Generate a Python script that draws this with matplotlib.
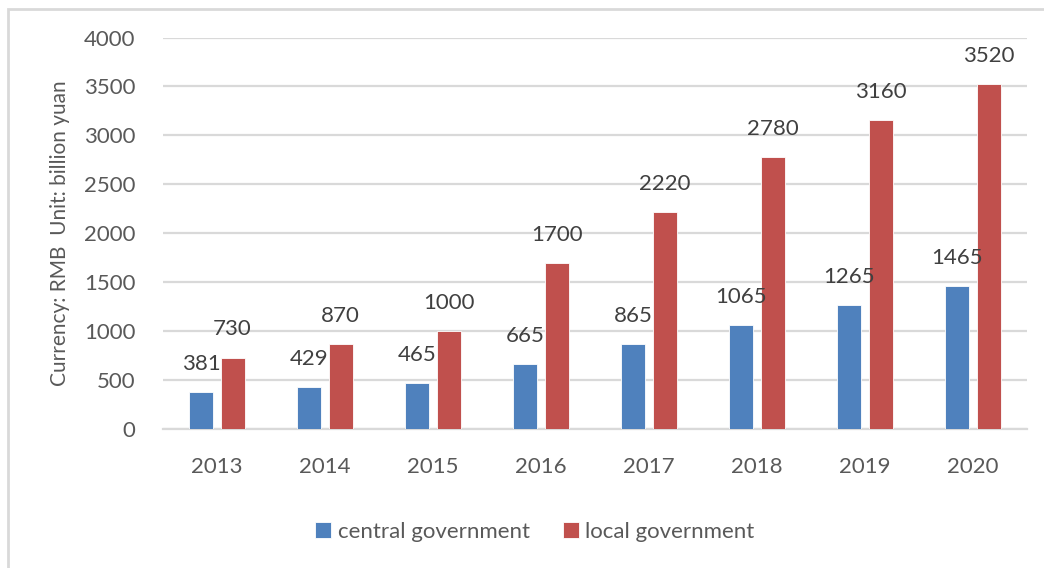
import numpy as np
import matplotlib
matplotlib.use("Agg")
import matplotlib.pyplot as plt
from matplotlib.patches import Rectangle

years = ["2013", "2014", "2015", "2016", "2017", "2018", "2019", "2020"]
central = [381, 429, 465, 665, 865, 1065, 1265, 1465]
local = [730, 870, 1000, 1700, 2220, 2780, 3160, 3520]

blue = "#4F81BD"
red = "#C0504D"
txt = "#595959"
grid = "#D9D9D9"

plt.rcParams['font.family'] = ['Lato', 'DejaVu Sans']
fs = 16

W, H = 1044, 568
fig = plt.figure(figsize=(W / 100, H / 100), dpi=100)

# chart frame
fig.patches.append(Rectangle((8 / W, -0.1), 1.2, 1 - 9 / H + 0.1, transform=fig.transFigure,
                             fill=False, edgecolor="#D9D9D9", linewidth=2.0))

ax = fig.add_axes([163 / W, 1 - 429 / H, (1027 - 163) / W, (429 - 37.5) / H])

x = np.arange(len(years))
w = 0.222
off = 0.144
b1 = ax.bar(x - off, central, w, color=blue, edgecolor="white", linewidth=0.6, label="central government", zorder=3)
b2 = ax.bar(x + off, local, w, color=red, edgecolor="white", linewidth=0.6, label="local government", zorder=3)

for bars, vals in ((b1, central), (b2, local)):
    for r, v in zip(bars, vals):
        ax.annotate(str(v), (r.get_x() + r.get_width() / 2, v), xytext=(0, 13), textcoords="offset points",
                    ha="center", va="bottom", fontsize=fs, color="#404040", zorder=4)

ax.set_xlim(-0.5, len(years) - 0.5)
ax.set_ylim(0, 4000)
ax.set_yticks(np.arange(0, 4001, 500))
ax.set_xticks(x)
ax.set_xticklabels(years)
ax.yaxis.grid(True, color=grid, linewidth=1.6, zorder=0)
ax.set_axisbelow(True)
for s in ["top", "right", "left"]:
    ax.spines[s].set_visible(False)
ax.spines["bottom"].set_color(grid)
ax.spines["bottom"].set_linewidth(1.6)
ax.tick_params(axis="both", length=0, labelsize=fs, colors=txt)
ax.tick_params(axis="y", pad=20)
ax.tick_params(axis="x", pad=20)

fig.text(60 / W, 1 - 233 / H, "Currency: RMB  Unit: billion yuan", rotation=90,
         ha="center", va="center", fontsize=15, color=txt)

fig.legend(handles=[b1, b2], loc="center", bbox_to_anchor=(535 / W, 1 - 532 / H), ncol=2,
           frameon=False, fontsize=fs, labelcolor=txt, handlelength=0.7, handleheight=0.7,
           handletextpad=0.3, columnspacing=1.5)

fig.savefig("out.png", dpi=100)
